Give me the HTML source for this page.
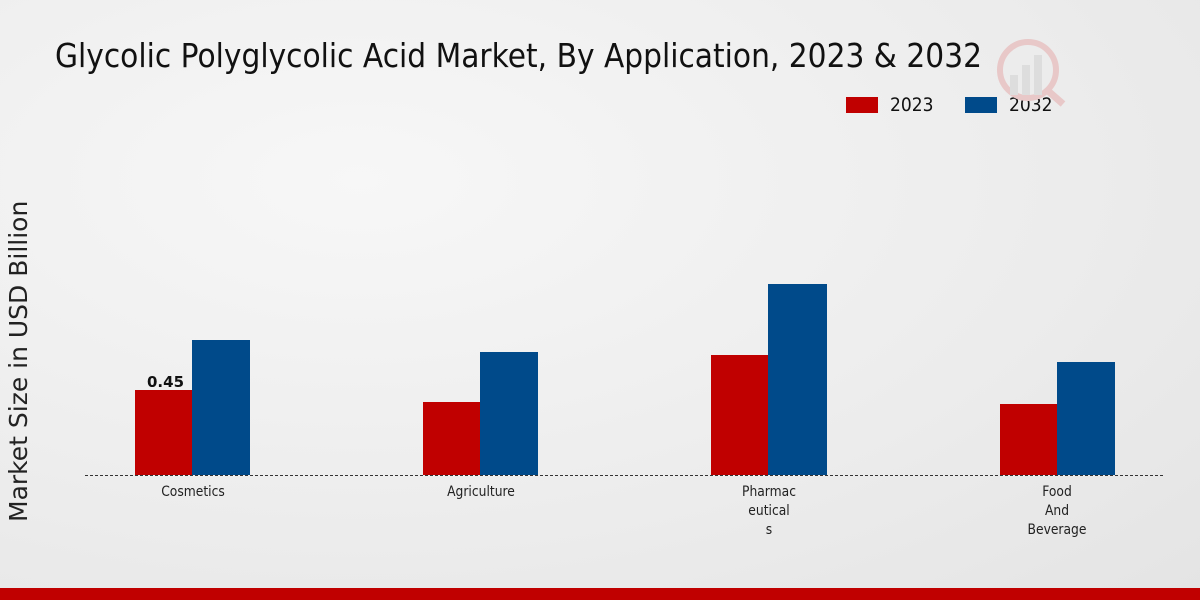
<!DOCTYPE html>
<html><head><meta charset="utf-8"><style>
html,body{margin:0;padding:0}
body{width:1200px;height:600px;overflow:hidden;position:relative;background:radial-gradient(ellipse at 30% 30%,#f7f7f7 0%,#ececec 60%,#e4e4e4 100%);font-family:"DejaVu Sans","Liberation Sans",sans-serif}
.t{position:absolute;white-space:nowrap;color:#111}
.bar{position:absolute}
.r{background:#c00000}.b{background:#004a8a}
.xl{position:absolute;font-size:14px;text-align:center;width:120px;line-height:19px;color:#222;transform:scaleX(.88)}
</style></head><body>
<div class="t" style="left:55px;top:36px;font-size:33px;transform:scaleX(.9);transform-origin:left top">Glycolic Polyglycolic Acid Market, By Application, 2023 &amp; 2032</div>
<div class="bar r" style="left:846px;top:97px;width:32px;height:16px"></div>
<div class="t" style="left:890px;top:94px;font-size:19px;transform:scaleX(.9);transform-origin:left top">2023</div>
<div class="bar b" style="left:965px;top:97px;width:32px;height:16px"></div>
<div class="t" style="left:1009px;top:94px;font-size:19px;transform:scaleX(.9);transform-origin:left top">2032</div>
<div class="t" style="left:4px;top:522px;font-size:25px;transform:rotate(-90deg);transform-origin:left top;color:#222">Market Size in USD Billion</div>
<svg style="position:absolute;left:995px;top:30px" width="75" height="80"><circle cx="33" cy="40" r="28" fill="none" stroke="#e8c8c8" stroke-width="6"/><rect x="15" y="45" width="8" height="20" fill="#ddd"/><rect x="27" y="35" width="8" height="30" fill="#ddd"/><rect x="39" y="25" width="8" height="40" fill="#ddd"/><line x1="52" y1="60" x2="68" y2="74" stroke="#e8c8c8" stroke-width="7"/></svg>
<div class="bar r" style="left:135px;top:390px;width:57px;height:85px"></div>
<div class="bar b" style="left:192px;top:340px;width:58px;height:135px"></div>
<div class="bar r" style="left:423px;top:402px;width:57px;height:73px"></div>
<div class="bar b" style="left:480px;top:352px;width:58px;height:123px"></div>
<div class="bar r" style="left:711px;top:355px;width:57px;height:120px"></div>
<div class="bar b" style="left:768px;top:284px;width:59px;height:191px"></div>
<div class="bar r" style="left:1000px;top:404px;width:57px;height:71px"></div>
<div class="bar b" style="left:1057px;top:362px;width:58px;height:113px"></div>
<div class="t" style="left:147px;top:373px;font-size:15px;font-weight:bold">0.45</div>
<div style="position:absolute;left:85px;top:475px;width:1078px;border-top:1px dashed #333"></div>
<div class="xl" style="left:133px;top:483px">Cosmetics</div>
<div class="xl" style="left:421px;top:483px">Agriculture</div>
<div class="xl" style="left:709px;top:483px">Pharmac<br>eutical<br>s</div>
<div class="xl" style="left:997px;top:483px">Food<br>And<br>Beverage</div>
<div style="position:absolute;left:0;top:588px;width:1200px;height:12px;background:#c00000"></div>
</body></html>
